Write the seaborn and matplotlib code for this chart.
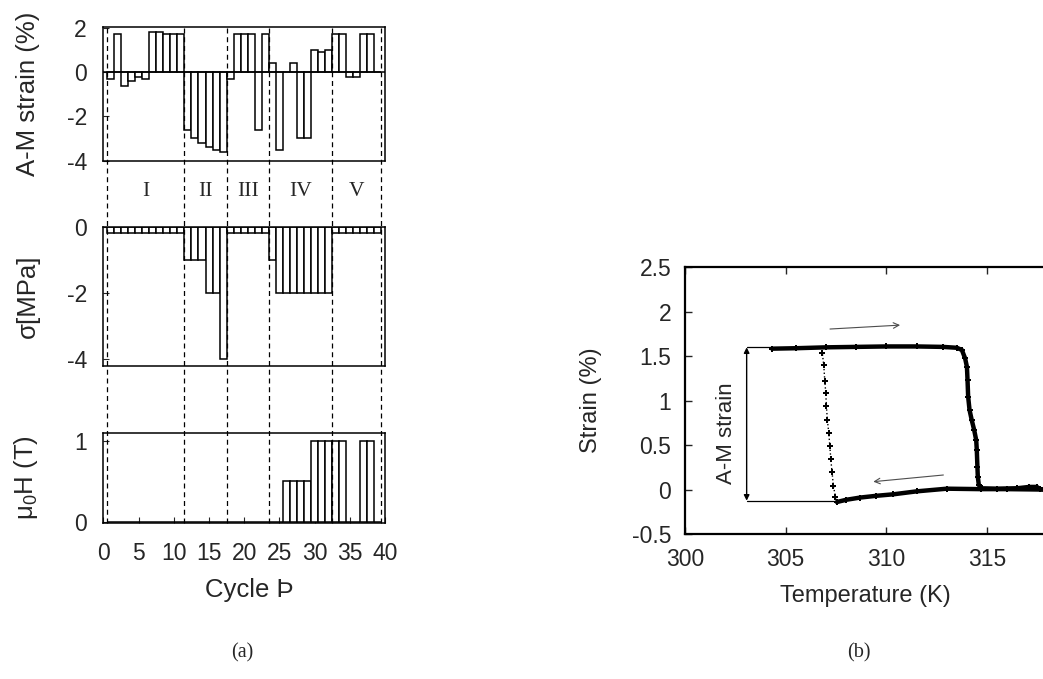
import matplotlib
matplotlib.use("Agg")
import matplotlib.pyplot as plt
import matplotlib.transforms as mtransforms
from matplotlib.lines import Line2D
import numpy as np
import pandas as pd
import seaborn as sns

# ---------------- data ----------------
cycles = list(range(1, 40))
am_strain = [-0.3, 1.71, -0.62, -0.4, -0.21, -0.3, 1.82, 1.8, 1.71, 1.71, 1.71,
             -2.6, -2.98, -3.2, -3.4, -3.5, -3.61,
             -0.3, 1.71, 1.71, 1.71, -2.6, 1.71,
             0.42, -3.5, 0.0, 0.42, -2.98, -2.98, 1.0, 0.9, 1.0,
             1.71, 1.71, -0.21, -0.21, 1.71, 1.71, 0.0]
stress = [-0.2, -0.2, -0.2, -0.2, -0.2, -0.2, -0.2, -0.2, -0.2, -0.2, -0.2,
          -1.0, -1.0, -1.0, -2.0, -2.0, -4.0,
          -0.2, -0.2, -0.2, -0.2, -0.2, -0.2,
          -1.0, -2.0, -2.0, -2.0, -2.0, -2.0, -2.0, -2.0, -2.0,
          -0.2, -0.2, -0.2, -0.2, -0.2, -0.2, -0.2]
field = [0, 0, 0, 0, 0, 0, 0, 0, 0, 0, 0,
         0, 0, 0, 0, 0, 0,
         0, 0, 0, 0, 0, 0,
         0, 0, 0.5, 0.5, 0.5, 0.5, 1.0, 1.0, 1.0,
         1.0, 1.0, 0, 0, 1.0, 1.0, 0]
region_bounds = [0.5, 11.5, 17.5, 23.5, 32.5, 39.5]
region_labels = ["I", "II", "III", "IV", "V"]

heat_T = [304.32, 305.5, 307.0, 308.5, 310.0, 311.5, 312.8, 313.5, 313.75, 313.91,
          314.0, 314.03, 314.06, 314.13, 314.24, 314.36, 314.46, 314.49, 314.52,
          314.54, 314.59, 314.74, 315.5, 316.5, 317.1, 317.47, 317.64, 317.9]
heat_S = [1.585, 1.59, 1.6, 1.605, 1.61, 1.61, 1.605, 1.595, 1.57, 1.476,
          1.38, 1.23, 1.045, 0.895, 0.78, 0.67, 0.557, 0.445, 0.257,
          0.145, 0.051, 0.014, 0.01, 0.015, 0.03, 0.03, 0.005, 0.0]
cool_T = [317.9, 316.0, 314.7, 313.0, 311.5, 310.35, 309.5, 308.69, 308.0, 307.54]
cool_S = [0.0, 0.005, 0.005, 0.01, -0.02, -0.053, -0.07, -0.09, -0.115, -0.14]
jump_T = [307.54, 307.47, 307.37, 307.30, 307.24, 307.19, 307.14, 307.07, 307.02,
          306.99, 306.94, 306.89, 306.82]
jump_S = [-0.14, -0.08, 0.04, 0.197, 0.34, 0.49, 0.632, 0.782, 0.94,
          1.082, 1.225, 1.397, 1.532]
am_top, am_bottom, am_x = 1.6, -0.125, 303.06

# ---------------- style ----------------
sns.set_style("white")
plt.rcParams["font.family"] = ["Liberation Sans", "DejaVu Sans"]
plt.rcParams["axes.unicode_minus"] = False
plt.rcParams["mathtext.fontset"] = "custom"
plt.rcParams["mathtext.rm"] = "Liberation Sans"
plt.rcParams["mathtext.it"] = "Liberation Sans:italic"

fig = plt.figure(figsize=(10.43, 6.79), dpi=100)
ax1 = fig.add_axes([0.0992, 0.7633, 0.2699, 0.1973])
ax2 = fig.add_axes([0.0992, 0.4610, 0.2699, 0.2052])
ax3 = fig.add_axes([0.0992, 0.2302, 0.2699, 0.1325])
axr = fig.add_axes([0.6568, 0.2135, 0.3861, 0.3928])

df = pd.DataFrame({"cycle": cycles, "strain": am_strain, "stress": stress, "field": field})
bar_kw = dict(native_scale=True, width=1, color="white", edgecolor="black",
              linewidth=1.1, saturation=1, errorbar=None)
sns.barplot(data=df, x="cycle", y="strain", ax=ax1, **bar_kw)
sns.barplot(data=df, x="cycle", y="stress", ax=ax2, **bar_kw)
sns.barplot(data=df, x="cycle", y="field", ax=ax3, **bar_kw)

tick_fs = 16.5
lab_fs = 18.5
for ax in (ax1, ax2, ax3):
    ax.set_xlim(0, 40)
    for s in ax.spines.values():
        s.set_visible(True)
        s.set_linewidth(1.1)
        s.set_color("black")
    ax.tick_params(direction="in", length=4, width=0.8, labelsize=tick_fs, pad=12,
                   left=True, bottom=True)
    ax.set_xlabel("")

ax1.axhline(0, color="black", lw=1.1, zorder=3)
ax1.set_ylim(-4, 2.05)
ax1.set_yticks([2, 0, -2, -4])
ax1.set_xticks([])
ax1.set_ylabel("A-M strain (%)", fontsize=lab_fs)

ax2.set_ylim(-4.2, 0)
ax2.set_yticks([0, -2, -4])
ax2.set_xticks([])
ax2.set_ylabel("σ[MPa]", fontsize=lab_fs)

ax3.set_ylim(-0.01, 1.1)
ax3.set_yticks([0, 1])
ax3.set_xticks([0, 5, 10, 15, 20, 25, 30, 35, 40])
ax3.set_xticklabels(["0", "5", "10", "15", "20", "25", "30", "35", "40"])
ax3.tick_params(axis="x", pad=14)
ax3.set_ylabel("μ$_{0}$H (T)", fontsize=lab_fs)
ax3.set_xlabel("Cycle Þ", fontsize=lab_fs)
ax3.xaxis.set_label_coords(0.517, -0.62)

for ax in (ax1, ax2, ax3):
    ax.yaxis.set_label_coords(-0.225, 0.5)

# dashed region separators across the three panels
trans = mtransforms.blended_transform_factory(ax3.transData, fig.transFigure)
for xb in region_bounds:
    fig.add_artist(Line2D([xb, xb], [0.2302, 0.963], transform=trans, color="black",
                          lw=0.9, ls=(0, (4, 3))))
for i, lab in enumerate(region_labels):
    xc = (region_bounds[i] + region_bounds[i + 1]) / 2
    fig.text(xc, 0.7177, lab, transform=trans, ha="center", va="center",
             fontsize=15.5, family=["Liberation Serif", "DejaVu Serif"])

# ---------------- right panel ----------------
sns.lineplot(x=heat_T, y=heat_S, sort=False, estimator=None, ax=axr, color="black",
             lw=3.2, marker="P", markersize=4.5, markeredgewidth=0)
sns.lineplot(x=cool_T, y=cool_S, sort=False, estimator=None, ax=axr, color="black",
             lw=3.2, marker="P", markersize=4.5, markeredgewidth=0)
sns.lineplot(x=jump_T, y=jump_S, sort=False, estimator=None, ax=axr, color="black",
             lw=1.0, ls=":", marker="P", markersize=5, markeredgewidth=0)

axr.plot([am_x, heat_T[0]], [am_top, am_top], color="black", lw=0.9)
axr.plot([am_x, jump_T[0]], [am_bottom, am_bottom], color="black", lw=0.9)
axr.annotate("", xy=(am_x, am_top), xytext=(am_x, am_bottom),
             arrowprops=dict(arrowstyle="<|-|>", color="black", lw=1.0,
                             mutation_scale=8, shrinkA=0, shrinkB=0))
axr.text(302.07, 0.63, "A-M strain", rotation=90, ha="center", va="center", fontsize=16)
axr.annotate("", xy=(310.68, 1.85), xytext=(307.2, 1.806),
             arrowprops=dict(arrowstyle="->", color="0.3", lw=0.8, shrinkA=0, shrinkB=0))
axr.annotate("", xy=(309.35, 0.089), xytext=(312.83, 0.164),
             arrowprops=dict(arrowstyle="->", color="0.3", lw=0.8, shrinkA=0, shrinkB=0))

axr.set_xlim(300, 320)
axr.set_ylim(-0.5, 2.5)
axr.set_xticks([300, 305, 310, 315])
axr.set_xticklabels(["300", "305", "310", "315"])
axr.set_yticks([-0.5, 0, 0.5, 1, 1.5, 2, 2.5])
axr.set_yticklabels(["-0.5", "0", "0.5", "1", "1.5", "2", "2.5"])
for s in axr.spines.values():
    s.set_visible(True)
    s.set_linewidth(1.6)
    s.set_color("black")
axr.tick_params(direction="in", length=5, width=1.0, labelsize=16.5, pad=10,
                top=True, right=True, left=True, bottom=True)
axr.set_xlabel("Temperature (K)", fontsize=17)
axr.set_ylabel("Strain (%)", fontsize=17)
axr.xaxis.set_label_coords(0.449, -0.19)
axr.yaxis.set_label_coords(-0.206, 0.5)

fig.text(242 / 1043, 1 - 653 / 679, "(a)", ha="center", va="center", fontsize=14.5,
         family=["Liberation Serif", "DejaVu Serif"])
fig.text(859 / 1043, 1 - 653 / 679, "(b)", ha="center", va="center", fontsize=14.5,
         family=["Liberation Serif", "DejaVu Serif"])

fig.savefig("out.png", dpi=100)
